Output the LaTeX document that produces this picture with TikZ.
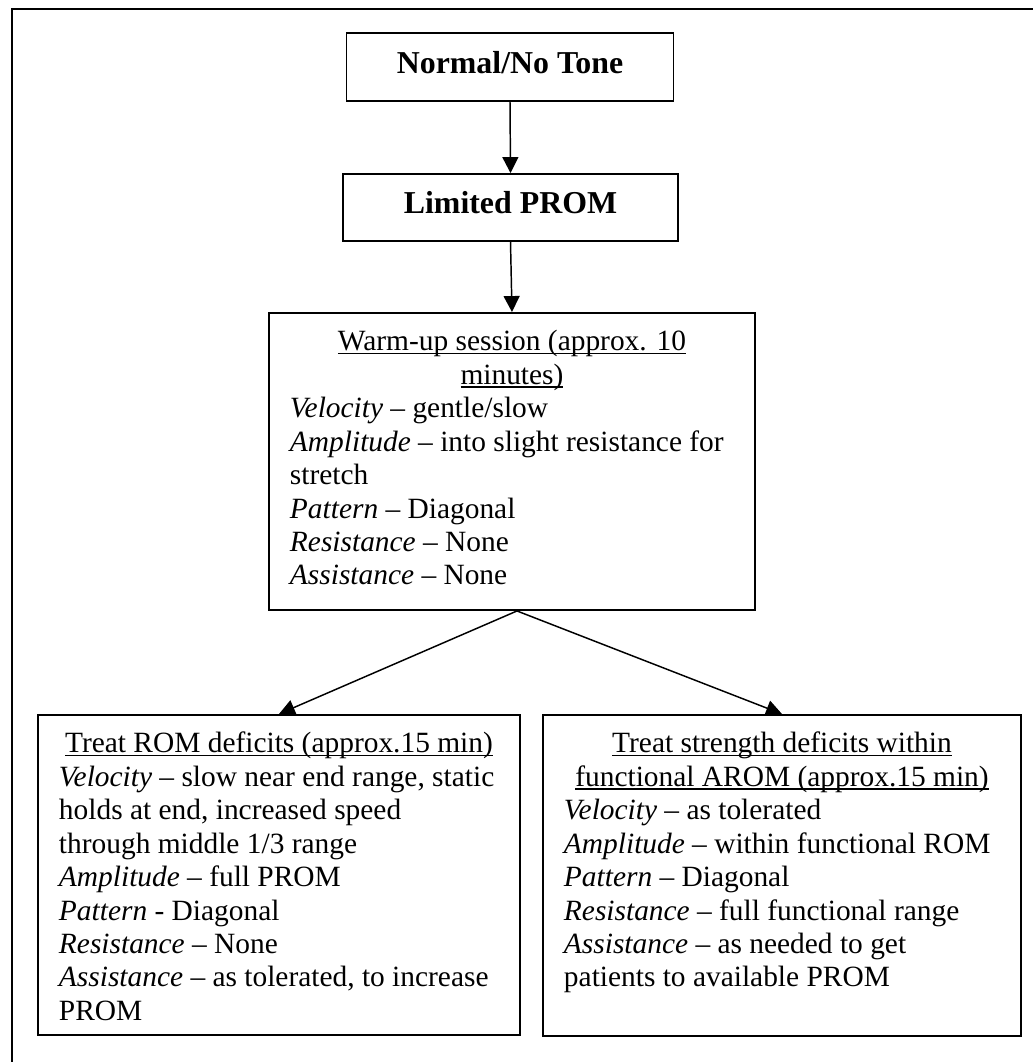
\documentclass[tikz,border=0pt]{standalone}
\usepackage{fontspec}
\setmainfont{Liberation Serif}
\usetikzlibrary{arrows.meta}

% one drawing unit
\newdimen\px \px=0.408pt

% underline at a fixed distance below the baseline
\newcommand\ulin[1]{\leavevmode\setbox0\hbox{#1}\rlap{\rule[-1.4pt]{\wd0}{0.7pt}}\box0}
% top-aligned text block of a given outer width and height (in units)
\newcommand\panel[3]{\parbox[c][#2\px][t]{\dimexpr#1\px-42\px\relax}{%
  \fontsize{12}{13.63}\selectfont\vspace*{14.6\px}#3}}

\begin{document}
\begin{tikzpicture}[x=0.408pt, y=-0.408pt]
\tikzset{
  frame/.style={line width=0.8pt},
  titlebox/.style={draw, line width=0.8pt, inner sep=0pt,
    font=\fontsize{13}{15}\selectfont\bfseries, text height=9pt, text depth=3.7pt},
  panelbox/.style={draw, line width=0.8pt, inner xsep=8.57pt, inner ysep=0pt,
    anchor=north west},
  flow/.style={line width=0.6pt, -{Triangle[length=6.5pt,width=6.5pt]}}
}
\useasboundingbox (0,0) rectangle (1033,1062);

% page frame
\draw[frame] (12,1062) -- (12,9) -- (1033,9);

% boxes
\node[titlebox, minimum width=133.42pt, minimum height=27.74pt] (tone) at (510,67) {Normal/No Tone};
\node[titlebox, minimum width=136.68pt, minimum height=27.34pt] (prom) at (510.5,207.5) {Limited PROM};

\node[panelbox] (warm) at (268,312) {\panel{486}{297}{%
  {\centering\strut\ulin{Warm-up session (approx. 10}\\\ulin{minutes)}\par}
  \textit{Velocity} – gentle/slow\\
  \textit{Amplitude} – into slight resistance for\\
  stretch\\
  \textit{Pattern} – Diagonal\\
  \textit{Resistance} – None\\
  \textit{Assistance} – None}};

\node[panelbox] (rom) at (37,714) {\panel{482}{320}{%
  {\centering\strut\ulin{Treat ROM deficits (approx.15 min)}\par}
  \textit{Velocity} – slow near end range, static\\
  holds at end, increased speed\\
  through middle 1/3 range\\
  \textit{Amplitude} – full PROM\\
  \textit{Pattern} - Diagonal\\
  \textit{Resistance} – None\\
  \textit{Assistance} – as tolerated, to increase\\
  PROM}};

\node[panelbox] (str) at (542,714) {\panel{478}{321}{%
  {\centering\strut\ulin{Treat strength deficits within}\\\ulin{functional AROM (approx.15 min)}\par}
  \textit{Velocity} – as tolerated\\
  \textit{Amplitude} – within functional ROM\\
  \textit{Pattern} – Diagonal\\
  \textit{Resistance} – full functional range\\
  \textit{Assistance} – as needed to get\\
  patients to available PROM}};

% connectors
\coordinate (fork) at ([xshift=2.04pt]warm.south);
\draw[flow] (tone.south) -- (prom.north);
\draw[flow] (prom.south) -- (warm.north);
\draw[flow] (fork) -- (rom.north);
\draw[flow] (fork) -- (str.north);
\end{tikzpicture}
\end{document}
